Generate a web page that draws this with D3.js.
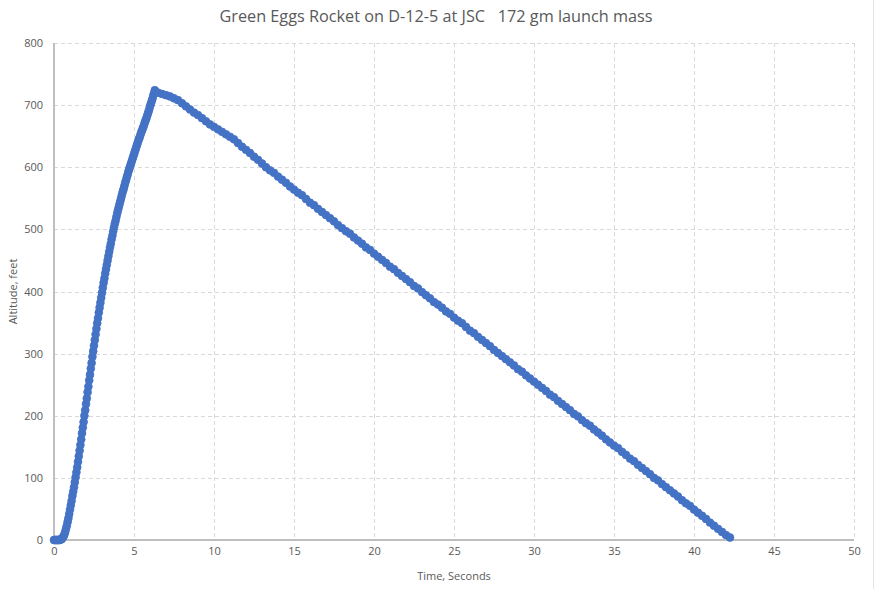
<!DOCTYPE html>
<html><head><meta charset="utf-8">
<script src="https://cdn.jsdelivr.net/npm/d3@7"></script>
<style>
body{margin:0;background:#fff}
svg{display:block}
text{font-family:"Open Sans","Noto Sans",sans-serif;fill:#595959}
</style>
</head><body>
<svg id="chart" width="876" height="589"></svg>
<script>
const chartTitle = "Green Eggs Rocket on D-12-5 at JSC   172 gm launch mass";
const xAxisTitle = "Time, Seconds";
const yAxisTitle = "Altitude, feet";
const xTickValues = [0, 5, 10, 15, 20, 25, 30, 35, 40, 45, 50];
const yTickValues = [0, 100, 200, 300, 400, 500, 600, 700, 800];

// Boost & coast phase (seconds)
const ascentTime = [0.00,0.05,0.10,0.15,0.20,0.25,0.30,0.35,0.40,0.45,0.50,0.55,0.60,0.65,0.70,0.75,0.80,0.85,0.90,0.95,
  1.00,1.05,1.10,1.15,1.20,1.25,1.30,1.35,1.40,1.45,1.50,1.55,1.60,1.65,1.70,1.75,1.80,1.85,1.90,1.95,
  2.00,2.05,2.10,2.15,2.20,2.25,2.30,2.35,2.40,2.45,2.50,2.55,2.60,2.65,2.70,2.75,2.80,2.85,2.90,2.95,
  3.00,3.05,3.10,3.15,3.20,3.25,3.30,3.35,3.40,3.45,3.50,3.55,3.60,3.65,3.70,3.75,3.80,3.85,3.90,3.95,
  4.00,4.05,4.10,4.15,4.20,4.25,4.30,4.35,4.40,4.45,4.50,4.55,4.60,4.65,4.70,4.75,4.80,4.85,4.90,4.95,
  5.00,5.05,5.10,5.15,5.20,5.25,5.30,5.35,5.40,5.45,5.50,5.55,5.60,5.65,5.70,5.75,5.80,5.85,5.90,5.95,
  6.00,6.05,6.10,6.15,6.20,6.25,6.30];
// Altitude during ascent (feet)
const ascentAltitude = [0,0,0,0,0,0,0,0,1,1,2,4,6,9,13,18,23,29,35,42,
  49,56,63,71,78,85,93,101,109,117,126,135,144,153,162,172,181,190,200,209,
  219,228,238,247,257,266,276,285,295,304,313,322,331,340,349,357,366,374,382,390,
  398,406,414,421,429,436,443,450,457,464,471,477,484,490,497,503,509,514,520,526,
  531,536,541,546,551,556,561,565,570,575,579,584,588,593,597,601,605,609,613,617,
  621,625,629,633,637,641,645,648,652,656,659,663,666,670,674,677,681,685,689,693,
  698,702,706,710,715,719,724];

// Descent phase (seconds)
const descentTime = [6.5,6.75,7.0,7.25,7.5,7.75,8.0,8.25,8.5,8.75,9.0,9.25,9.5,9.75,10.0,10.25,10.5,10.75,
  11.0,11.25,11.5,11.75,12.0,12.25,12.5,12.75,13.0,13.25,13.5,13.75,14.0,14.25,14.5,14.75,
  15.0,15.25,15.5,15.75,16.0,16.25,16.5,16.75,17.0,17.25,17.5,17.75,18.0,18.25,18.5,18.75,
  19.0,19.25,19.5,19.75,20.0,20.25,20.5,20.75,21.0,21.25,21.5,21.75,22.0,22.25,22.5,22.75,
  23.0,23.25,23.5,23.75,24.0,24.25,24.5,24.75,25.0,25.25,25.5,25.75,26.0,26.25,26.5,26.75,
  27.0,27.25,27.5,27.75,28.0,28.25,28.5,28.75,29.0,29.25,29.5,29.75,30.0,30.25,30.5,30.75,
  31.0,31.25,31.5,31.75,32.0,32.25,32.5,32.75,33.0,33.25,33.5,33.75,34.0,34.25,34.5,34.75,
  35.0,35.25,35.5,35.75,36.0,36.25,36.5,36.75,37.0,37.25,37.5,37.75,38.0,38.25,38.5,38.75,
  39.0,39.25,39.5,39.75,40.0,40.25,40.5,40.75,41.0,41.25,41.5,41.75,42.0,42.25];
// Altitude during descent (feet)
const descentAltitude = [720,718,716,714,711,708,703,698,693,688,684,679,674,669,665,661,657,653,
  649,645,639,633,628,623,617,612,606,600,595,591,585,580,575,569,
  564,559,555,549,543,539,533,528,523,518,513,507,502,497,493,487,
  482,477,471,467,461,456,451,446,440,436,430,425,420,415,409,405,
  399,394,389,383,379,374,368,364,358,353,349,343,337,333,327,322,
  317,312,306,301,296,291,286,281,275,271,265,260,255,250,245,240,
  234,230,224,219,214,209,203,199,193,188,184,178,173,168,162,157,
  152,148,142,137,131,127,121,116,111,106,100,96,90,85,80,75,
  70,64,59,55,49,44,39,34,28,23,18,13,8,4];

const flight = ascentTime.map((t, i) => ({t, alt: ascentAltitude[i]}))
  .concat(descentTime.map((t, i) => ({t, alt: descentAltitude[i]})));

const svg = d3.select("#chart");
const x = d3.scaleLinear().domain([0, 50]).range([54, 854]);
const y = d3.scaleLinear().domain([0, 800]).range([540, 43]);

// faint chart border on the right
svg.append("line").attr("x1", 873.5).attr("x2", 873.5).attr("y1", 0).attr("y2", 589)
  .attr("stroke", "#e4e4e4").attr("stroke-width", 1);

// gridlines
svg.append("g").selectAll("line").data(yTickValues.filter(d => d > 0)).join("line")
  .attr("x1", x(0)).attr("x2", x(50))
  .attr("y1", d => Math.round(y(d)) + 0.5).attr("y2", d => Math.round(y(d)) + 0.5)
  .attr("stroke", "#d9d9d9").attr("stroke-width", 1).attr("stroke-dasharray", "4,3");
svg.append("g").selectAll("line").data(xTickValues.filter(d => d > 0)).join("line")
  .attr("x1", d => Math.round(x(d)) + 0.5).attr("x2", d => Math.round(x(d)) + 0.5)
  .attr("y1", y(800)).attr("y2", y(0))
  .attr("stroke", "#d9d9d9").attr("stroke-width", 1).attr("stroke-dasharray", "4,3");

// axes lines
svg.append("line").attr("x1", x(0)).attr("x2", x(0)).attr("y1", y(800)).attr("y2", y(0))
  .attr("stroke", "#bfbfbf").attr("stroke-width", 2);
svg.append("line").attr("x1", x(0)).attr("x2", x(50)).attr("y1", y(0)).attr("y2", y(0))
  .attr("stroke", "#bfbfbf").attr("stroke-width", 2);

// tick labels via d3 axes
const yAxis = svg.append("g").attr("transform", `translate(${x(0)},0)`)
  .call(d3.axisLeft(y).tickValues(yTickValues).tickSize(0).tickPadding(11).tickFormat(d3.format("d")));
yAxis.select(".domain").remove();
yAxis.selectAll("text").style("font-size", "11px").attr("fill", "#595959");

const xAxis = svg.append("g").attr("transform", `translate(0,${y(0)})`)
  .call(d3.axisBottom(x).tickValues(xTickValues).tickSize(0).tickPadding(7).tickFormat(d3.format("d")));
xAxis.select(".domain").remove();
xAxis.selectAll("text").style("font-size", "11px").attr("fill", "#595959");

// axis titles
svg.append("text").attr("x", (x(0) + x(50)) / 2).attr("y", 580).attr("text-anchor", "middle")
  .style("font-size", "11px").text(xAxisTitle);
svg.append("text").attr("transform", `translate(17,${(y(0) + y(800)) / 2}) rotate(-90)`)
  .attr("text-anchor", "middle").style("font-size", "11px").text(yAxisTitle);

// title
const title = svg.append("text").attr("x", 436).attr("y", 22).attr("text-anchor", "middle")
  .style("font-size", "15px").style("white-space", "pre").attr("xml:space", "preserve").text(chartTitle);
const w = title.node().getComputedTextLength();
title.style("font-size", (15 * 433 / w).toFixed(2) + "px");

// markers
svg.append("g").selectAll("circle").data(flight).join("circle")
  .attr("cx", d => x(d.t)).attr("cy", d => y(d.alt)).attr("r", 3.9)
  .attr("fill", "#4472c4").attr("stroke", "#4472c4").attr("stroke-width", 0.8);
</script>
</body></html>
